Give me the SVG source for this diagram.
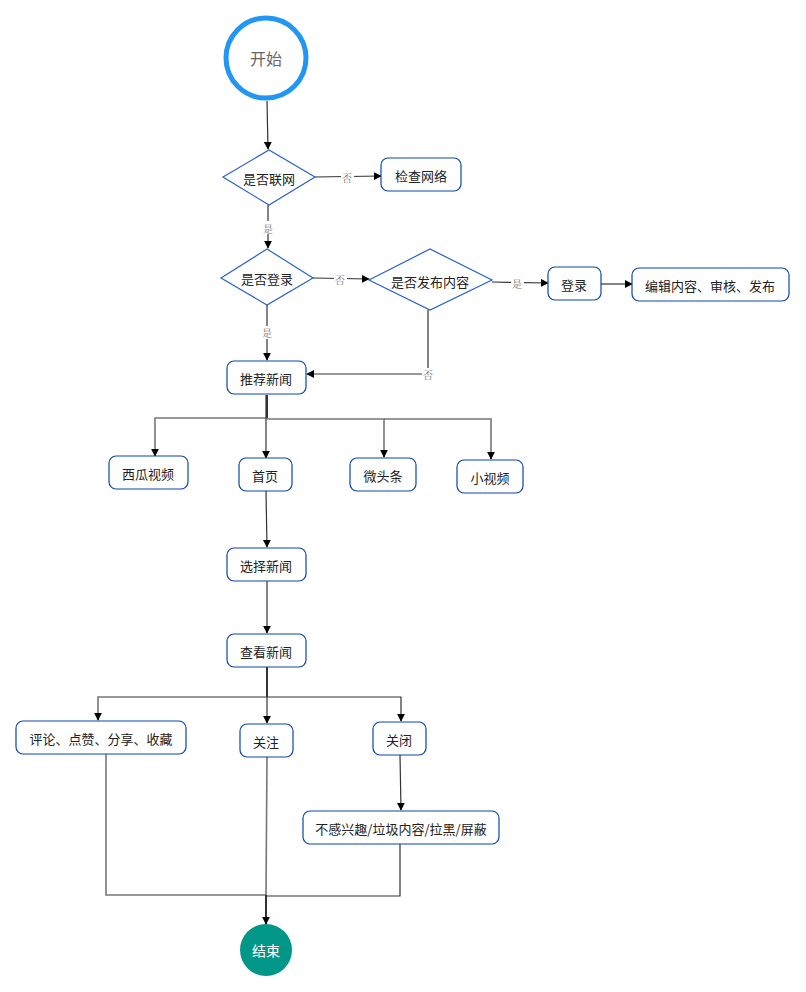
<svg xmlns="http://www.w3.org/2000/svg" width="806" height="992" viewBox="0 0 806 992">
<defs>
<marker id="arr" viewBox="0 0 10 10" refX="9" refY="5" markerWidth="8" markerHeight="8" markerUnits="userSpaceOnUse" orient="auto">
<path d="M0,0 L10,5 L0,10 z" fill="#000"/>
</marker>
<style>
.box{fill:#fff;stroke:#0B47A8;stroke-width:1.2}
.dia{fill:#fff;stroke:#2A62C4;stroke-width:1.2}
.t{font-family:"Noto Sans CJK SC","Noto Sans",sans-serif;font-size:13px;fill:#222;text-anchor:middle;dominant-baseline:central}
.c{fill:none;stroke:#333;stroke-width:1.2}
.g{fill:none;stroke:#777;stroke-width:1.6}
.lb{font-family:"Noto Serif CJK SC","Noto Sans CJK SC",serif;font-size:10px;fill:#777;text-anchor:middle;dominant-baseline:central}
.lbg{fill:#fff}
</style>
</defs>
<rect width="806" height="992" fill="#fff"/>
<g id="connectors">
<path class="c" d="M267,101 L268,149" marker-end="url(#arr)"/>
<path class="c" d="M315,177 L381,176" marker-end="url(#arr)"/>
<path class="c" d="M268,205 L268,248" marker-end="url(#arr)"/>
<path class="c" d="M313,278 L369,279" marker-end="url(#arr)"/>
<path class="c" d="M492,282 L548,283" marker-end="url(#arr)"/>
<path class="c" d="M601,284 L632,284" marker-end="url(#arr)"/>
<path class="c" d="M267,305 L267,360" marker-end="url(#arr)"/>
<path class="c" d="M428,310 L428,374 L307,374" marker-end="url(#arr)"/>
<path class="c" d="M267,395 L267,418" style="stroke-width:2"/>
<path class="g" d="M267,418 L155,418 L155,456"/>
<path class="c" d="M155,450 L155,456" marker-end="url(#arr)"/>
<path class="c" d="M266,395 L266,458" marker-end="url(#arr)"/>
<path class="g" d="M267,419 L384,419 L384,457"/>
<path class="c" d="M384,450 L384,457" marker-end="url(#arr)"/>
<path class="g" d="M384,419 L491,419 L491,459"/>
<path class="c" d="M491,452 L491,459" marker-end="url(#arr)"/>
<path class="c" d="M266,491 L267,547" marker-end="url(#arr)"/>
<path class="c" d="M267,581 L267,633" marker-end="url(#arr)"/>
<path class="c" d="M267,667 L267,697" style="stroke-width:2"/>
<path class="g" d="M267,697 L98,697 L98,720"/>
<path class="c" d="M98,713 L98,720" marker-end="url(#arr)"/>
<path class="c" d="M267,667 L267,723" marker-end="url(#arr)"/>
<path class="c" d="M267,697 L401,697 L401,721" marker-end="url(#arr)"/>
<path class="c" d="M400,755 L401,810" marker-end="url(#arr)"/>
<path class="g" d="M106,754 L106,895 L266,895"/>
<path class="g" d="M267,757 L266,895"/>
<path class="c" d="M400,844 L400,896 L266,896"/>
<path class="c" d="M266,895 L266,924" style="stroke-width:2" marker-end="url(#arr)"/>
<rect class="lbg" x="341" y="170" width="13" height="13"/>
<text class="lb" x="347" y="177">否</text>
<rect class="lbg" x="262" y="221" width="13" height="13"/>
<text class="lb" x="268" y="228">是</text>
<rect class="lbg" x="334" y="272" width="13" height="13"/>
<text class="lb" x="340" y="279">否</text>
<rect class="lbg" x="511" y="276" width="13" height="13"/>
<text class="lb" x="517" y="283">是</text>
<rect class="lbg" x="261" y="326" width="13" height="13"/>
<text class="lb" x="267" y="332">是</text>
<rect class="lbg" x="422" y="368" width="13" height="13"/>
<text class="lb" x="428" y="374">否</text>
</g>
<g id="start">
<circle cx="266" cy="58" r="40" fill="#fff" stroke="#2196F3" stroke-width="5"/>
<text class="t" x="266" y="58" style="font-size:16px;fill:#666">开始</text>
</g>
<g id="net">
<polygon class="dia" points="223,177 269,150 315,177 269,205"/>
<text class="t" x="269" y="178">是否联网</text>
</g>
<g id="checknet">
<rect class="box" x="381" y="158" width="80" height="33" rx="7"/>
<text class="t" x="421" y="175">检查网络</text>
</g>
<g id="login">
<polygon class="dia" points="221,278 267,249 313,278 267,305"/>
<text class="t" x="267" y="278">是否登录</text>
</g>
<g id="publish">
<polygon class="dia" points="369,280 430,249 492,280 430,310"/>
<text class="t" x="430" y="281">是否发布内容</text>
</g>
<g id="dologin">
<rect class="box" x="548" y="267" width="53" height="33" rx="7"/>
<text class="t" x="574" y="284">登录</text>
</g>
<g id="edit">
<rect class="box" x="632" y="268" width="157" height="33" rx="7"/>
<text class="t" x="710" y="285">编辑内容、审核、发布</text>
</g>
<g id="recommend">
<rect class="box" x="227" y="361" width="79" height="33" rx="7"/>
<text class="t" x="266" y="378">推荐新闻</text>
</g>
<g id="xigua">
<rect class="box" x="109" y="456" width="79" height="33" rx="7"/>
<text class="t" x="148" y="473">西瓜视频</text>
</g>
<g id="home">
<rect class="box" x="239" y="458" width="53" height="33" rx="7"/>
<text class="t" x="265" y="475">首页</text>
</g>
<g id="weitoutiao">
<rect class="box" x="350" y="458" width="66" height="33" rx="7"/>
<text class="t" x="383" y="475">微头条</text>
</g>
<g id="smallvideo">
<rect class="box" x="457" y="460" width="66" height="33" rx="7"/>
<text class="t" x="490" y="477">小视频</text>
</g>
<g id="select">
<rect class="box" x="227" y="548" width="79" height="33" rx="7"/>
<text class="t" x="266" y="565">选择新闻</text>
</g>
<g id="view">
<rect class="box" x="227" y="634" width="79" height="33" rx="7"/>
<text class="t" x="266" y="651">查看新闻</text>
</g>
<g id="comment">
<rect class="box" x="16" y="721" width="170" height="33" rx="7"/>
<text class="t" x="101" y="738">评论、点赞、分享、收藏</text>
</g>
<g id="follow">
<rect class="box" x="240" y="724" width="53" height="33" rx="7"/>
<text class="t" x="266" y="741">关注</text>
</g>
<g id="close">
<rect class="box" x="373" y="722" width="53" height="33" rx="7"/>
<text class="t" x="399" y="739">关闭</text>
</g>
<g id="block">
<rect class="box" x="303" y="811" width="196" height="33" rx="7"/>
<text class="t" x="401" y="828">不感兴趣/垃圾内容/拉黑/屏蔽</text>
</g>
<g id="end">
<circle cx="266" cy="950" r="26" fill="#009688"/>
<text class="t" x="266" y="950" style="fill:#fff;font-size:14px">结束</text>
</g>
</svg>
